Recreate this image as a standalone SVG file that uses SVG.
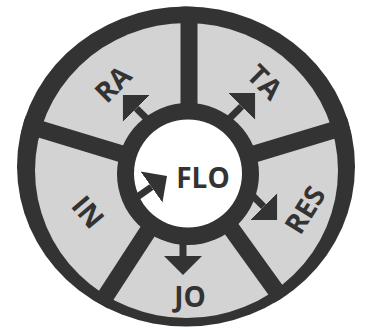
<svg xmlns="http://www.w3.org/2000/svg" width="367" height="331" viewBox="0 0 367 331">
  <style>
    .dark { fill: #333333; }
    .light { fill: #d3d3d3; }
    .spoke { stroke: #333333; stroke-width: 17; fill: none; }
    .shaft { stroke: #333333; stroke-width: 7; fill: none; marker-end: url(#head); }
    .lbl { font-family: "Open Sans", "DejaVu Sans", sans-serif; font-weight: 700; font-size: 28px; fill: #333333; text-anchor: middle; }
  </style>
  <defs>
    <clipPath id="outerClip">
      <ellipse cx="186" cy="166.5" rx="169" ry="160"/>
    </clipPath>
    <marker id="head" markerUnits="userSpaceOnUse" viewBox="0 -20 20 40" markerWidth="20" markerHeight="40" refX="0" refY="0" orient="auto">
      <path d="M0,-19 L19,0 L0,19 Z" fill="#333333"/>
    </marker>
  </defs>
  <rect width="367" height="331" fill="#ffffff"/>

  <g id="wheel">
    <ellipse class="dark" cx="186" cy="166.5" rx="169" ry="160"/>
    <ellipse class="light" cx="186.5" cy="170.5" rx="151.5" ry="147.5"/>
  </g>

  <g id="spokes" clip-path="url(#outerClip)">
    <line class="spoke" x1="189" y1="174" x2="189" y2="0"/>
    <line class="spoke" x1="188" y1="174" x2="0" y2="117"/>
    <line class="spoke" x1="188" y1="174" x2="367" y2="120"/>
    <line class="spoke" x1="185" y1="174" x2="83" y2="331"/>
    <line class="spoke" x1="192" y1="174" x2="305" y2="331"/>
  </g>

  <g id="FLO">
    <circle class="dark" cx="188" cy="174" r="71"/>
    <circle cx="188" cy="173.5" r="54" fill="#ffffff"/>
    <text class="lbl" x="203" y="188">FLO</text>
  </g>

  <g id="RA">
    <text class="lbl" transform="translate(113,84) rotate(-45)" y="10">RA</text>
  </g>
  <g id="TA">
    <text class="lbl" transform="translate(265,82) rotate(45)" y="10">TA</text>
  </g>
  <g id="RES">
    <text class="lbl" transform="translate(305,210) rotate(-58)" y="10">RES</text>
  </g>
  <g id="JO">
    <text class="lbl" x="190" y="307">JO</text>
  </g>
  <g id="IN">
    <text class="lbl" transform="translate(88,212) rotate(50)" y="10">IN</text>
  </g>

  <g id="connectors">
    <line class="shaft" x1="152" y1="124" x2="136.4" y2="108.4"/>
    <line class="shaft" x1="225" y1="123" x2="241.6" y2="106.4"/>
    <line class="shaft" x1="250" y1="193" x2="263.6" y2="206.6"/>
    <line class="shaft" x1="183" y1="238" x2="183" y2="256"/>
    <line class="shaft" x1="133.5" y1="199.7" x2="151.5" y2="187"/>
  </g>
</svg>
